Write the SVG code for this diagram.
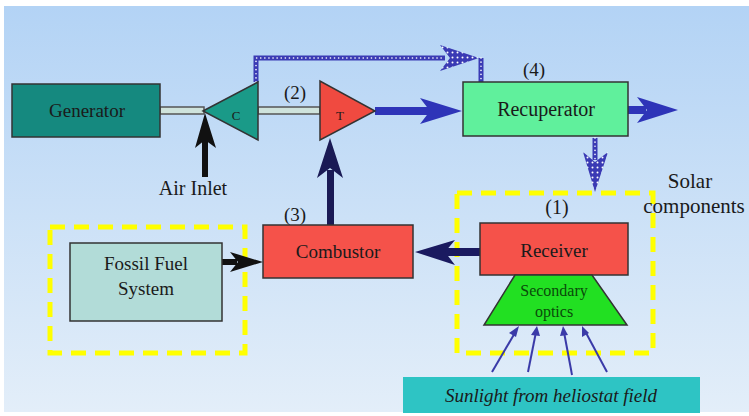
<svg xmlns="http://www.w3.org/2000/svg" width="749" height="416" viewBox="0 0 749 416">
<defs>
<linearGradient id="bg" x1="0" y1="0" x2="0" y2="1">
<stop offset="0" stop-color="#b3d3f5"/>
<stop offset="1" stop-color="#e3eef9"/>
</linearGradient>
<pattern id="dots" width="5" height="5" patternUnits="userSpaceOnUse">
<rect width="5" height="5" fill="#3a3ab4"/>
<circle cx="2.5" cy="2.5" r="1" fill="#ffffff"/>
</pattern>
</defs>
<style>
text{font-family:'Liberation Serif','Times New Roman',serif}
.t{fill:#1a1a1a;text-anchor:middle}
.box{stroke:#333;stroke-width:1.5}
.ydash{fill:none;stroke:#ffff00;stroke-width:5;stroke-dasharray:15 9}
.dl{fill:none;stroke:#3a3ab4;stroke-width:5}
.dd{fill:none;stroke:#fff;stroke-width:1.6;stroke-dasharray:0.1 4;stroke-linecap:round}
.sun{stroke:#3a3aa8;stroke-width:2;fill:none}
</style>
<rect x="0" y="0" width="749" height="416" fill="#ffffff"/>
<rect x="4" y="6" width="745" height="406" fill="url(#bg)"/>

<g id="fossil-group">
<rect x="50" y="227" width="195" height="126" class="ydash"/>
</g>
<g id="solar-group">
<rect x="457" y="193" width="196" height="160" class="ydash"/>
</g>

<g id="connectors">
<rect x="160" y="107" width="44" height="7" fill="#cfe3dc" stroke="#555" stroke-width="1.5"/>
<rect x="258" y="107" width="62" height="7" fill="#cfe3dc" stroke="#555" stroke-width="1.5"/>
<rect x="375" y="107" width="55" height="8" fill="#2e34b8"/>
<polygon points="462,111 420,98 430,111 420,124" fill="#2e34b8"/>
<rect x="628" y="106" width="18" height="8" fill="#2e34b8"/>
<polygon points="678,110 637,97 647,110 637,123" fill="#2e34b8"/>
<path d="M256,82 V58 H445" class="dl"/>
<path d="M256,82 V58 H445" class="dd"/>
<polygon points="479,58 440,45 450,58 440,71" fill="url(#dots)"/>
<path d="M481,58 V82" class="dl"/>
<path d="M481,58 V82" class="dd"/>
<path d="M595,138 V160" class="dl" stroke-width="7"/>
<path d="M595,138 V160" class="dd"/>
<polygon points="595,192 583,152 595,162 608,152" fill="url(#dots)"/>
<rect x="202" y="140" width="6" height="37" fill="#111"/>
<polygon points="205,113 195,148 205,140 216,148" fill="#111"/>
<rect x="327" y="170" width="7" height="55" fill="#1a1a55"/>
<polygon points="330,138 317,178 330,168 343,178" fill="#1a1a55"/>
<rect x="445" y="248" width="35" height="8" fill="#1a1a60"/>
<polygon points="415,252 455,240 445,252 455,265" fill="#1a1a60"/>
<rect x="222" y="259" width="15" height="6" fill="#111"/>
<polygon points="263,262 230,252 238,262 230,272" fill="#111"/>
<line x1="492" y1="372" x2="516" y2="331" class="sun"/>
<polygon points="519,326 509,333 516,337" fill="#3a3aa8"/>
<line x1="528" y1="372" x2="536" y2="332" class="sun"/>
<polygon points="537,326 531,335 540,336" fill="#3a3aa8"/>
<line x1="572" y1="375" x2="564" y2="332" class="sun"/>
<polygon points="563,326 560,336 568,335" fill="#3a3aa8"/>
<line x1="607" y1="372" x2="585" y2="331" class="sun"/>
<polygon points="582,326 582,337 589,333" fill="#3a3aa8"/>
</g>

<g id="generator">
<rect x="12" y="84" width="148" height="53" fill="#15897f" class="box"/>
<text x="87" y="117" class="t" font-size="19" font-family="Liberation Serif, serif">Generator</text>
</g>
<g id="compressor">
<polygon points="203,111 258,82 258,140" fill="#1a9a88" stroke="#333" stroke-width="1.5"/>
<text x="236" y="120" class="t" font-size="13" font-family="Liberation Serif, serif">C</text>
</g>
<g id="turbine">
<polygon points="320,81 320,140 375,111" fill="#f04a40" stroke="#333" stroke-width="1.5"/>
<text x="340" y="120" class="t" font-size="13" font-family="Liberation Serif, serif">T</text>
</g>
<text x="295" y="99" class="t" font-size="19" font-family="Liberation Serif, serif">(2)</text>
<g id="recuperator">
<rect x="463" y="82" width="165" height="54" fill="#60f09c" class="box"/>
<text x="546" y="116" class="t" font-size="20" font-family="Liberation Serif, serif">Recuperator</text>
</g>
<text x="534" y="76" class="t" font-size="19" font-family="Liberation Serif, serif">(4)</text>
<g id="combustor">
<rect x="263" y="225" width="150" height="53" fill="#f5524a" class="box"/>
<text x="338" y="258" class="t" font-size="19" font-family="Liberation Serif, serif">Combustor</text>
</g>
<text x="295" y="221" class="t" font-size="19" font-family="Liberation Serif, serif">(3)</text>
<g id="fossil-fuel">
<rect x="70" y="243" width="152" height="78" fill="#b2dcd8" class="box"/>
<text x="146" y="270" class="t" font-size="19" font-family="Liberation Serif, serif">Fossil Fuel</text>
<text x="146" y="295" class="t" font-size="19" font-family="Liberation Serif, serif">System</text>
</g>
<g id="receiver">
<rect x="480" y="223" width="148" height="52" fill="#f5524a" class="box"/>
<text x="554" y="257" class="t" font-size="19" font-family="Liberation Serif, serif">Receiver</text>
</g>
<text x="557" y="214" class="t" font-size="20" font-family="Liberation Serif, serif">(1)</text>
<g id="secondary-optics">
<polygon points="515,275 592,275 627,325 484,325" fill="#22e022" stroke="#333" stroke-width="1.5"/>
<text x="554" y="296" class="t" font-size="16" font-family="Liberation Serif, serif" style="fill:#0a4a0a">Secondary</text>
<text x="554" y="317" class="t" font-size="16" font-family="Liberation Serif, serif" style="fill:#0a4a0a">optics</text>
</g>
<g id="sunlight">
<rect x="403" y="377" width="297" height="36" fill="#2ec4c4"/>
<text x="551" y="402" class="t" font-size="19" font-style="italic" font-family="Liberation Serif, serif">Sunlight from heliostat field</text>
</g>
<text x="193" y="195" class="t" font-size="20" font-family="Liberation Serif, serif">Air Inlet</text>
<text x="690" y="188" class="t" font-size="21" font-family="Liberation Serif, serif">Solar</text>
<text x="694" y="213" class="t" font-size="21" font-family="Liberation Serif, serif">components</text>
</svg>
